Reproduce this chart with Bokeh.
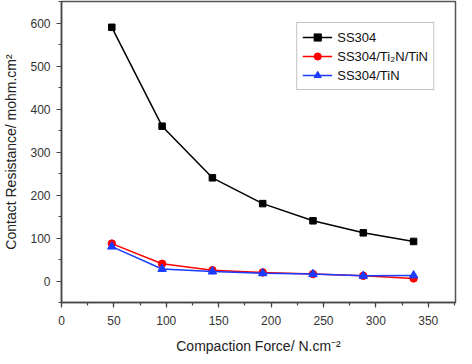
from bokeh.plotting import figure
from bokeh.models import Range1d, Legend, LegendItem, SingleIntervalTicker
from bokeh.embed import file_html
from bokeh.resources import INLINE

force = [48, 96, 144, 192, 240, 288, 336]
ss304 = [590, 360, 240, 180, 140, 112, 92]
ss304_ti2n_tin = [87, 40, 25, 20, 16, 12, 6]
ss304_tin = [80, 28, 22, 18, 16, 12, 13]

FONT = "Liberation Sans"

p = figure(width=464, height=356, output_backend="svg", toolbar_location=None,
           x_range=Range1d(0, 376), y_range=Range1d(-50, 650),
           min_border_left=48, min_border_right=9, min_border_top=1, min_border_bottom=54)
p.grid.visible = False
p.outline_line_color = "#555555"
p.outline_line_width = 1.5
p.background_fill_color = "white"

r1l = p.line(force, ss304, line_color="black", line_width=1.5)
r1m = p.scatter(force, ss304, marker="square", size=6.5, color="black")
r2l = p.line(force, ss304_ti2n_tin, line_color="red", line_width=1.5)
r2m = p.scatter(force, ss304_ti2n_tin, marker="circle", size=7.5, color="red")
r3l = p.line(force, ss304_tin, line_color="#1a3cff", line_width=1.5)
r3m = p.scatter(force, ss304_tin, marker="triangle", size=8.5, color="#1a3cff")

for ax in (p.xaxis[0], p.yaxis[0]):
    ax.axis_line_color = "#444444"
    ax.axis_line_width = 1.5
    ax.major_tick_line_color = "#444444"
    ax.minor_tick_line_color = "#444444"
    ax.major_tick_line_width = 1.2
    ax.minor_tick_line_width = 1.2
    ax.major_tick_in = 0
    ax.major_tick_out = 5
    ax.minor_tick_in = 0
    ax.minor_tick_out = 3
    ax.major_label_text_font = FONT
    ax.major_label_text_font_size = "12px"
    ax.major_label_text_color = "#333333"
    ax.axis_label_text_font = FONT
    ax.axis_label_text_font_size = "14px"
    ax.axis_label_text_font_style = "normal"
    ax.axis_label_text_color = "#222222"

p.xaxis.ticker = SingleIntervalTicker(interval=50, num_minor_ticks=2)
p.yaxis.ticker = SingleIntervalTicker(interval=100, num_minor_ticks=2)
p.xaxis.axis_label = "Compaction Force/ N.cm\u207b\u00b2"
p.yaxis.axis_label = "Contact Resistance/ mohm.cm\u00b2"
p.xaxis.major_label_standoff = 8
p.xaxis.axis_label_standoff = 10
p.yaxis.major_label_standoff = 6
p.yaxis.axis_label_standoff = 8

legend = Legend(items=[
    LegendItem(label="SS304", renderers=[r1l, r1m]),
    LegendItem(label="SS304/Ti\u2082N/TiN", renderers=[r2l, r2m]),
    LegendItem(label="SS304/TiN", renderers=[r3l, r3m]),
], location="top_right")
legend.margin = 21
legend.padding = 5
legend.spacing = 1
legend.glyph_width = 30
legend.glyph_height = 18
legend.label_height = 18
legend.label_text_font = FONT
legend.label_text_font_size = "13px"
legend.label_text_color = "#111111"
legend.label_standoff = 5
legend.border_line_color = "#888888"
legend.border_line_width = 1.2
p.add_layout(legend)

open("out.html", "w").write(file_html(p, INLINE))
